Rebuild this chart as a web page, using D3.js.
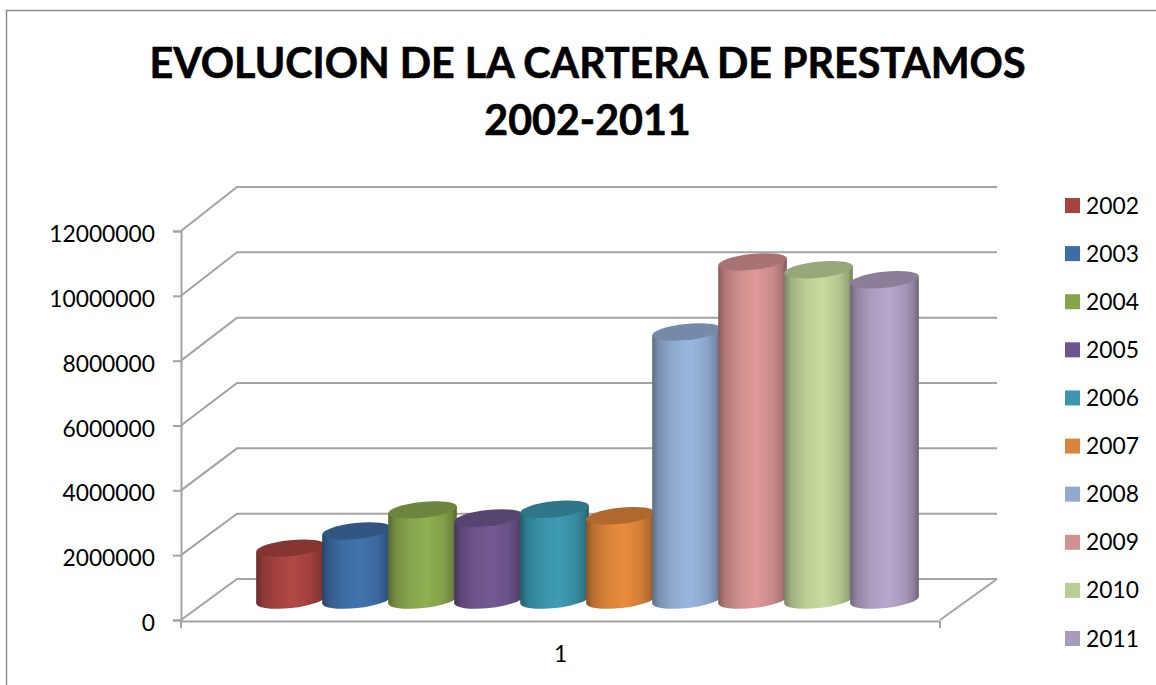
<!DOCTYPE html>
<html>
<head>
<meta charset="utf-8">
<script src="https://cdnjs.cloudflare.com/ajax/libs/d3/7.8.5/d3.min.js"></script>
<style>
html, body { margin: 0; padding: 0; background: #fff; overflow: hidden; }
text { font-family: Lato, "Open Sans", sans-serif; fill: #000; }
</style>
</head>
<body>
<svg width="1156" height="685"></svg>
<script>
const categories = ["1"];
const years = ["2002","2003","2004","2005","2006","2007","2008","2009","2010","2011"];
const values = [1600000,2130000,2780000,2530000,2800000,2600000,8270000,10430000,10190000,9880000];
const yTicks = [0,2000000,4000000,6000000,8000000,10000000,12000000];
const titleLines = ["EVOLUCION DE LA CARTERA DE PRESTAMOS","2002-2011"];
const bodyColors = ["#ab4542","#3f70a9","#8cab4f","#70578f","#3b97ae","#e1873a","#95b1d8","#d89493","#c2d69a","#b3a2c7"];
const legendColors = ["#a8423f","#3c6da5","#86a44a","#6e548d","#3d96ae","#db843d","#93a9cf","#d19392","#b9cd96","#a99bbd"];

const svg = d3.select("svg");
const grey = "#a3a3a3";

const defs = svg.append("defs");
defs.append("filter").attr("id", "soft").append("feGaussianBlur").attr("stdDeviation", 0.6);
defs.append("filter").attr("id", "softline").append("feGaussianBlur").attr("stdDeviation", 0.4);

// frame
svg.append("path").attr("d", "M6.5,685V10.5H1156").attr("fill", "none").attr("stroke", "#8c8c8c").attr("stroke-width", 1.5);

// title
svg.selectAll(".title").data(titleLines).enter().append("text")
    .attr("class", "title")
    .attr("x", 587.5)
    .attr("y", (d, i) => 78 + i * 57)
    .attr("text-anchor", "middle")
    .attr("font-size", 41.2)
    .attr("font-weight", 700)
    .attr("stroke", "#000")
    .attr("stroke-width", 0.6)
    .text(d => d);

// scales
const y = d3.scaleLinear().domain([0, 12000000]).range([620, 231]);
const yBack = d3.scaleLinear().domain([0, 12000000]).range([579, 187]);
const x0 = d3.scaleBand().domain(categories).range([181, 940]);
// bars sit half way into the floor
const x1 = d3.scaleBand().domain(years).range([x0("1") + 75, x0("1") + 735]);
const color = d3.scaleOrdinal().domain(years).range(bodyColors);
const legendColor = d3.scaleOrdinal().domain(years).range(legendColors);

// back wall gridlines + side wall
const wall = svg.append("g").attr("filter", "url(#softline)");
yTicks.forEach(t => {
    wall.append("path")
        .attr("d", `M181,${y(t)}L237,${yBack(t)}H997`)
        .attr("fill", "none").attr("stroke", grey).attr("stroke-width", 2);
});
wall.append("path")
    .attr("d", `M940,${y(0)}L997,${yBack(0)}`)
    .attr("fill", "none").attr("stroke", grey).attr("stroke-width", 2);

// axes
const gy = svg.append("g").attr("transform", "translate(181,0)")
    .call(d3.axisLeft(y).tickValues(yTicks).tickFormat(d3.format("d")).tickSize(8).tickPadding(18));
const gx = svg.append("g").attr("transform", `translate(0,${y(0) + 1})`)
    .call(d3.axisBottom(x0).tickSize(0).tickPadding(25));
gx.append("path").attr("d", "M181,0V7M940,0V7").attr("stroke", grey).attr("stroke-width", 2);
[gy, gx].forEach(g => {
    g.selectAll(".domain").attr("stroke", grey).attr("stroke-width", 2);
    g.selectAll(".tick line").attr("stroke", grey).attr("stroke-width", 2);
    g.selectAll("text").attr("font-size", 22.8).attr("font-family", "Lato").attr("fill", "#000");
});
gy.selectAll("text").attr("dy", "0.46em");

// cylinders
years.forEach(yr => {
    const g = defs.append("linearGradient").attr("id", "grad" + yr);
    const c = d3.color(color(yr));
    [[0, 0.62], [0.1, 0.82], [0.3, 0.96], [0.55, 1.03], [0.8, 0.93], [0.93, 0.78], [1, 0.6]].forEach(s => {
        g.append("stop").attr("offset", s[0])
            .attr("stop-color", d3.rgb(c.r * s[1], c.g * s[1], c.b * s[1]).formatHex());
    });
});

const rx = x1.bandwidth() * 0.523, ry = 8, tilt = 6;
const sx = rx * Math.cos(tilt * Math.PI / 180), sy = rx * Math.sin(tilt * Math.PI / 180);
const baseY = y(0) - 20;
const bars = svg.append("g").attr("filter", "url(#soft)")
    .selectAll("g").data(years).enter().append("g");
bars.append("path")
    .attr("fill", d => `url(#grad${d})`)
    .attr("d", (d, i) => {
        const cx = x1(d) + rx, top = baseY - (y(0) - y(values[i]));
        return `M${cx - sx},${top + sy}V${baseY + sy}A${rx},${ry} ${-tilt} 0 0 ${cx + sx},${baseY - sy}V${top - sy}Z`;
    });
bars.append("ellipse")
    .attr("rx", rx).attr("ry", ry)
    .attr("fill", d => d3.color(color(d)).darker(0.7))
    .attr("transform", (d, i) => `translate(${x1(d) + rx},${baseY - (y(0) - y(values[i]))}) rotate(${-tilt})`);

// legend
const legendY = d3.scalePoint().domain(years).range([205.5, 638.5]);
const lg = svg.selectAll(".lg").data(years).enter().append("g").attr("class", "lg")
    .attr("transform", d => `translate(1065,${legendY(d)})`);
lg.append("rect").attr("y", -7.5).attr("width", 15).attr("height", 15).attr("fill", d => legendColor(d));
lg.append("text").attr("x", 21).attr("y", 8).attr("font-size", 22.8).text(d => d);
</script>
</body>
</html>
